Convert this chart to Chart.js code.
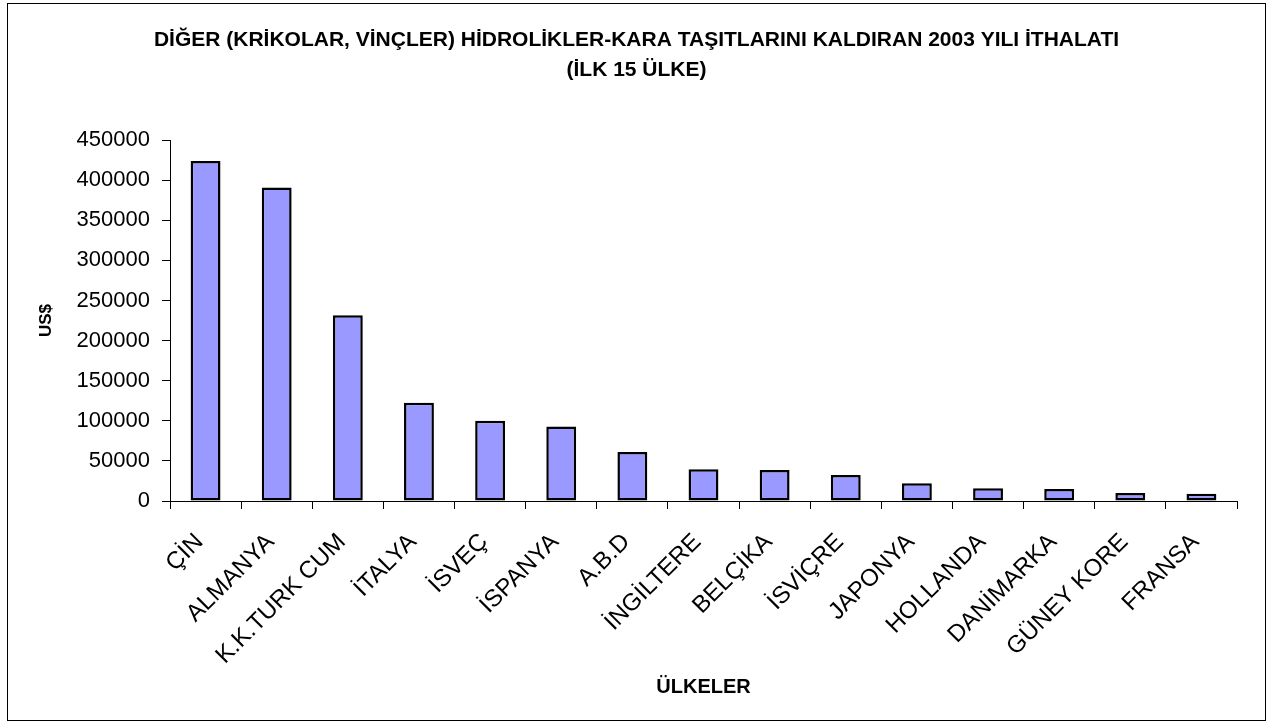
<!DOCTYPE html>
<html>
<head>
<meta charset="utf-8">
<script src="https://cdn.jsdelivr.net/npm/chart.js@4/dist/chart.umd.min.js"></script>
<style>
  body { margin: 0; background: #fff; }
</style>
</head>
<body>
<canvas id="importChart" width="1273" height="725"></canvas>
<script>
  // 2003 import values (US$), top 15 countries
  var countries = ['ÇİN', 'ALMANYA', 'K.K.TURK CUM', 'İTALYA', 'İSVEÇ', 'İSPANYA', 'A.B.D', 'İNGİLTERE',
                   'BELÇİKA', 'İSVİÇRE', 'JAPONYA', 'HOLLANDA', 'DANİMARKA', 'GÜNEY KORE', 'FRANSA'];
  var imports = [424000, 391000, 231500, 122500, 100000, 93000, 61000, 39500,
                 38500, 32500, 22000, 16000, 15000, 10000, 9000];
  var yMax = 450000;
  var yStep = 50000;
  var titleLines = ['DİĞER (KRİKOLAR, VİNÇLER) HİDROLİKLER-KARA TAŞITLARINI KALDIRAN 2003 YILI İTHALATI', '(İLK 15 ÜLKE)'];

  var fontFamily = '"Liberation Sans", Arial, sans-serif';

  // thin frame around the whole chart
  var frame = {
    id: 'frame',
    beforeDraw: function (chart) {
      var c = chart.ctx;
      c.save();
      c.fillStyle = '#fff';
      c.fillRect(0, 0, chart.width, chart.height);
      c.strokeStyle = '#000';
      c.lineWidth = 1;
      c.strokeRect(7.5, 3.5, 1258, 717);
      c.restore();
    }
  };

  var ctx = document.getElementById('importChart').getContext('2d');
  var importChart = new Chart(ctx, {
    type: 'bar',
    data: {
      labels: countries,
      datasets: [
        {
          label: 'US$',
          backgroundColor: '#9999FF',
          borderColor: '#000',
          borderWidth: 2.5,
          borderSkipped: false,
          categoryPercentage: 1,
          barPercentage: 0.42,
          data: imports
        }
      ]
    },
    options: {
      responsive: false,
      animation: false,
      layout: { padding: { left: 36, right: 36, top: 0, bottom: 0 } },
      plugins: {
        legend: { display: false },
        tooltip: { enabled: false },
        title: {
          display: true,
          text: titleLines,
          color: '#000',
          font: { family: fontFamily, size: 21, weight: 'bold', lineHeight: 1.43 },
          padding: { top: 25, bottom: 55 }
        }
      },
      scales: {
        x: {
          afterFit: function (scale) { scale.height = 224; },
          border: { display: true, color: '#000', width: 1 },
          grid: { display: true, drawOnChartArea: false, drawTicks: true, tickLength: 8, color: '#000', offset: true },
          ticks: {
            color: '#000',
            autoSkip: false,
            minRotation: 45,
            maxRotation: 45,
            labelOffset: -6,
            padding: 19,
            font: { family: fontFamily, size: 24 }
          },
          title: {
            display: true,
            text: 'ÜLKELER',
            color: '#000',
            font: { family: fontFamily, size: 20, weight: 'bold' },
            padding: { top: 0, bottom: 26 }
          }
        },
        y: {
          min: 0,
          max: yMax,
          afterFit: function (scale) { scale.width = 134; },
          border: { display: true, color: '#000', width: 1 },
          grid: { display: true, drawOnChartArea: false, drawTicks: true, tickLength: 8, color: '#000' },
          ticks: {
            stepSize: yStep,
            color: '#000',
            padding: 12,
            font: { family: fontFamily, size: 22 },
            callback: function (value) { return String(value); }
          },
          title: {
            display: true,
            text: 'US$',
            color: '#000',
            font: { family: fontFamily, size: 17, weight: 'bold' },
            padding: { top: 0, bottom: 0 }
          }
        }
      }
    },
    plugins: [frame]
  });
</script>
</body>
</html>
